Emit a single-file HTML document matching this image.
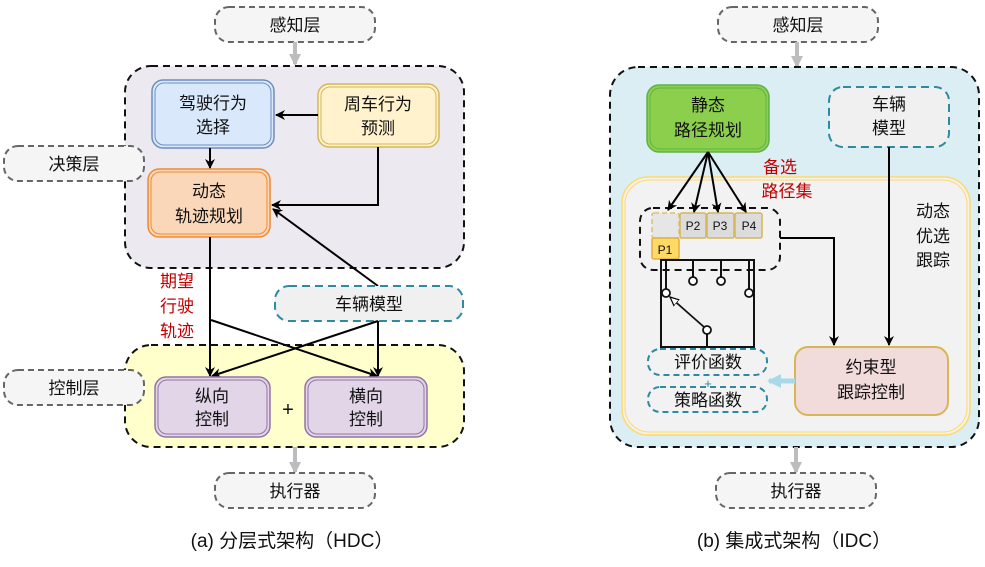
<!DOCTYPE html>
<html><head><meta charset="utf-8"><style>
html,body{margin:0;padding:0;background:#fff;width:985px;height:567px;overflow:hidden}
svg{display:block}
text{font-family:"Liberation Sans","Noto Sans CJK SC",sans-serif;fill:#111}
</style></head><body>
<svg width="985" height="567" viewBox="0 0 985 567" xmlns="http://www.w3.org/2000/svg">
<defs>
<marker id="a" markerWidth="10" markerHeight="10" refX="9" refY="5" orient="auto" markerUnits="userSpaceOnUse"><path d="M0,0 L10,5 L0,10 L3,5 z" fill="#000"/></marker>
<marker id="g" markerWidth="12" markerHeight="12" refX="10" refY="6" orient="auto" markerUnits="userSpaceOnUse"><path d="M0,0 L12,6 L0,12 z" fill="#bdbdbd"/></marker>
<marker id="lb" markerWidth="14" markerHeight="14" refX="12" refY="7" orient="auto" markerUnits="userSpaceOnUse"><path d="M0,0 L14,7 L0,14 z" fill="#a9d9e8"/></marker>
<marker id="o" markerWidth="10" markerHeight="10" refX="9" refY="5" orient="auto" markerUnits="userSpaceOnUse"><path d="M0,1 L9,5 L0,9 z" fill="#fff" stroke="#000" stroke-width="1.2"/></marker>
</defs>

<!-- ===== LEFT (a) ===== -->
<rect x="215" y="7" width="160" height="35" rx="14" fill="#f5f5f5" stroke="#666" stroke-width="2" stroke-dasharray="6,4"/>
<text x="295" y="31" font-size="17" text-anchor="middle">感知层</text>
<line x1="295" y1="42" x2="295" y2="64" stroke="#bdbdbd" stroke-width="4" marker-end="url(#g)"/>

<rect x="125" y="66" width="339" height="202" rx="26" fill="#ece9f0" stroke="#111" stroke-width="2" stroke-dasharray="7,5"/>
<rect x="4" y="146" width="140" height="35" rx="14" fill="#f5f5f5" stroke="#666" stroke-width="2" stroke-dasharray="6,4"/>
<text x="74" y="170" font-size="17" text-anchor="middle">决策层</text>

<rect x="152" y="80" width="122" height="68" rx="11" fill="#dae8fc" stroke="#6c8ebf" stroke-width="1.5"/>
<rect x="155" y="83" width="116" height="62" rx="9" fill="none" stroke="#6c8ebf" stroke-width="1"/>
<text x="213" y="109" font-size="17" text-anchor="middle">驾驶行为</text>
<text x="213" y="133" font-size="17" text-anchor="middle">选择</text>

<rect x="318" y="84" width="121" height="63" rx="11" fill="#fff2cc" stroke="#d6b656" stroke-width="1.5"/>
<rect x="321" y="87" width="115" height="57" rx="9" fill="none" stroke="#d6b656" stroke-width="1"/>
<text x="378" y="110" font-size="17" text-anchor="middle">周车行为</text>
<text x="378" y="134" font-size="17" text-anchor="middle">预测</text>

<rect x="148" y="169" width="122" height="68" rx="11" fill="#fad7b8" stroke="#f08a30" stroke-width="1.5"/>
<rect x="151" y="172" width="116" height="62" rx="9" fill="none" stroke="#f08a30" stroke-width="1"/>
<text x="209" y="197" font-size="17" text-anchor="middle">动态</text>
<text x="209" y="222" font-size="17" text-anchor="middle">轨迹规划</text>

<line x1="318" y1="115" x2="276" y2="115" stroke="#000" stroke-width="2" marker-end="url(#a)"/>
<line x1="210" y1="148" x2="210" y2="168" stroke="#000" stroke-width="2" marker-end="url(#a)"/>
<polyline points="378,147 378,205 272,205" fill="none" stroke="#000" stroke-width="2" marker-end="url(#a)"/>
<line x1="378" y1="286" x2="273" y2="209" stroke="#000" stroke-width="2" marker-end="url(#a)"/>

<rect x="275" y="286" width="188" height="35" rx="14" fill="#f0f0f0" stroke="#2e8aa0" stroke-width="2" stroke-dasharray="8,5"/>
<text x="369" y="310" font-size="17" text-anchor="middle">车辆模型</text>

<text x="177" y="287" font-size="17" fill="#c00000" text-anchor="middle" style="fill:#c00000">期望</text>
<text x="177" y="312" font-size="17" text-anchor="middle" style="fill:#c00000">行驶</text>
<text x="177" y="337" font-size="17" text-anchor="middle" style="fill:#c00000">轨迹</text>

<rect x="125" y="345" width="339" height="102" rx="26" fill="#ffffcc" stroke="#111" stroke-width="2" stroke-dasharray="7,5"/>
<rect x="4" y="370" width="140" height="35" rx="14" fill="#f5f5f5" stroke="#666" stroke-width="2" stroke-dasharray="6,4"/>
<text x="74" y="394" font-size="17" text-anchor="middle">控制层</text>

<line x1="210" y1="237" x2="210" y2="376" stroke="#000" stroke-width="2" marker-end="url(#a)"/>
<line x1="211" y1="320" x2="377" y2="376" stroke="#000" stroke-width="2" marker-end="url(#a)"/>
<line x1="378" y1="321" x2="378" y2="376" stroke="#000" stroke-width="2" marker-end="url(#a)"/>
<line x1="378" y1="321" x2="212" y2="376" stroke="#000" stroke-width="2" marker-end="url(#a)"/>

<rect x="155" y="377" width="115" height="60" rx="11" fill="#e1d5e7" stroke="#9673a6" stroke-width="1.5"/>
<rect x="158" y="380" width="109" height="54" rx="9" fill="none" stroke="#9673a6" stroke-width="1"/>
<text x="212" y="402" font-size="17" text-anchor="middle">纵向</text>
<text x="212" y="425" font-size="17" text-anchor="middle">控制</text>
<rect x="305" y="377" width="122" height="60" rx="11" fill="#e1d5e7" stroke="#9673a6" stroke-width="1.5"/>
<rect x="308" y="380" width="116" height="54" rx="9" fill="none" stroke="#9673a6" stroke-width="1"/>
<text x="366" y="402" font-size="17" text-anchor="middle">横向</text>
<text x="366" y="425" font-size="17" text-anchor="middle">控制</text>
<text x="288" y="416" font-size="20" text-anchor="middle">+</text>

<line x1="295" y1="447" x2="295" y2="472" stroke="#bdbdbd" stroke-width="4" marker-end="url(#g)"/>
<rect x="215" y="473" width="160" height="35" rx="14" fill="#f5f5f5" stroke="#666" stroke-width="2" stroke-dasharray="6,4"/>
<text x="295" y="497" font-size="17" text-anchor="middle">执行器</text>
<text x="292" y="547" font-size="19" text-anchor="middle">(a) 分层式架构（HDC）</text>

<!-- ===== RIGHT (b) ===== -->
<rect x="718" y="7" width="160" height="35" rx="14" fill="#f5f5f5" stroke="#666" stroke-width="2" stroke-dasharray="6,4"/>
<text x="798" y="31" font-size="17" text-anchor="middle">感知层</text>
<line x1="797" y1="42" x2="797" y2="66" stroke="#bdbdbd" stroke-width="4" marker-end="url(#g)"/>

<rect x="610" y="67" width="369" height="380" rx="28" fill="#dbeef4" stroke="#111" stroke-width="2" stroke-dasharray="7,5"/>

<rect x="647" y="85" width="122" height="67" rx="12" fill="#8ccf4d" stroke="#5fb04a" stroke-width="1.5"/>
<rect x="650" y="88" width="116" height="61" rx="10" fill="none" stroke="#5fb04a" stroke-width="1"/>
<text x="708" y="111" font-size="17" text-anchor="middle">静态</text>
<text x="708" y="136" font-size="17" text-anchor="middle">路径规划</text>

<rect x="829" y="87" width="120" height="60" rx="14" fill="#f0f0f0" stroke="#2e8aa0" stroke-width="2" stroke-dasharray="8,5"/>
<text x="889" y="110" font-size="17" text-anchor="middle">车辆</text>
<text x="889" y="134" font-size="17" text-anchor="middle">模型</text>

<rect x="622" y="177" width="348" height="258" rx="26" fill="#f2f2f2" stroke="#ffd966" stroke-width="1.5"/>
<rect x="625" y="180" width="342" height="252" rx="24" fill="none" stroke="#ffd966" stroke-width="1"/>

<text x="780" y="173" font-size="17" text-anchor="middle" style="fill:#c00000">备选</text>
<text x="787" y="197" font-size="17" text-anchor="middle" style="fill:#c00000">路径集</text>

<text x="933" y="217" font-size="17" text-anchor="middle">动态</text>
<text x="933" y="242" font-size="17" text-anchor="middle">优选</text>
<text x="933" y="266" font-size="17" text-anchor="middle">跟踪</text>

<rect x="640" y="208" width="140" height="62" rx="13" fill="none" stroke="#111" stroke-width="2" stroke-dasharray="7,5"/>
<rect x="652" y="213" width="27" height="25" rx="2" fill="#e6e6e6" stroke="#e0c070" stroke-width="1.5" stroke-dasharray="5,3"/>
<rect x="652" y="238" width="27" height="21" rx="2" fill="#ffd966" stroke="#e0b040" stroke-width="1.5"/>
<text x="665" y="254" font-size="12" text-anchor="middle">P1</text>
<rect x="680" y="213" width="26" height="25" rx="2" fill="#dcdcdc" stroke="#d6b656" stroke-width="1.5"/>
<text x="693" y="230" font-size="12" text-anchor="middle">P2</text>
<rect x="707" y="213" width="27" height="25" rx="2" fill="#dcdcdc" stroke="#d6b656" stroke-width="1.5"/>
<text x="720" y="230" font-size="12" text-anchor="middle">P3</text>
<rect x="735" y="213" width="27" height="25" rx="2" fill="#dcdcdc" stroke="#d6b656" stroke-width="1.5"/>
<text x="749" y="230" font-size="12" text-anchor="middle">P4</text>

<line x1="708" y1="152" x2="668" y2="210" stroke="#000" stroke-width="2" marker-end="url(#a)"/>
<line x1="708" y1="152" x2="694" y2="212" stroke="#000" stroke-width="2" marker-end="url(#a)"/>
<line x1="708" y1="152" x2="718" y2="212" stroke="#000" stroke-width="2" marker-end="url(#a)"/>
<line x1="708" y1="152" x2="746" y2="212" stroke="#000" stroke-width="2" marker-end="url(#a)"/>

<!-- switch -->
<rect x="661" y="260" width="93" height="87" fill="none" stroke="#111" stroke-width="2"/>
<line x1="666" y1="260" x2="666" y2="289" stroke="#111" stroke-width="2"/>
<line x1="693" y1="260" x2="693" y2="277" stroke="#111" stroke-width="2"/>
<line x1="721" y1="260" x2="721" y2="277" stroke="#111" stroke-width="2"/>
<line x1="749" y1="260" x2="749" y2="289" stroke="#111" stroke-width="2"/>
<circle cx="693" cy="281" r="4" fill="#fff" stroke="#111" stroke-width="1.8"/>
<circle cx="721" cy="281" r="4" fill="#fff" stroke="#111" stroke-width="1.8"/>
<circle cx="666" cy="293" r="4" fill="#fff" stroke="#111" stroke-width="1.8"/>
<circle cx="749" cy="293" r="4" fill="#fff" stroke="#111" stroke-width="1.8"/>
<line x1="704" y1="327" x2="670" y2="297" stroke="#111" stroke-width="1.8" marker-end="url(#o)"/>
<circle cx="707" cy="330" r="4" fill="#fff" stroke="#111" stroke-width="1.8"/>
<line x1="707" y1="334" x2="707" y2="347" stroke="#111" stroke-width="2"/>

<rect x="648" y="349" width="119" height="26" rx="12" fill="#f2f2f2" stroke="#2e8aa0" stroke-width="2" stroke-dasharray="6,4"/>
<text x="708" y="368" font-size="17" text-anchor="middle">评价函数</text>
<text x="708" y="388" font-size="13" text-anchor="middle" style="fill:#2e8aa0">+</text>
<rect x="648" y="387" width="119" height="25" rx="12" fill="#f2f2f2" stroke="#2e8aa0" stroke-width="2" stroke-dasharray="6,4"/>
<text x="708" y="406" font-size="17" text-anchor="middle">策略函数</text>

<polyline points="780,238 834,238 834,345" fill="none" stroke="#000" stroke-width="2" marker-end="url(#a)"/>
<line x1="889" y1="147" x2="889" y2="345" stroke="#000" stroke-width="2" marker-end="url(#a)"/>

<rect x="795" y="347" width="153" height="68" rx="13" fill="#f2dcdb" stroke="#d6b656" stroke-width="2"/>
<text x="871" y="373" font-size="17" text-anchor="middle">约束型</text>
<text x="871" y="398" font-size="17" text-anchor="middle">跟踪控制</text>
<line x1="795" y1="381" x2="769" y2="381" stroke="#a9d9e8" stroke-width="5" marker-end="url(#lb)"/>

<line x1="796" y1="447" x2="796" y2="472" stroke="#bdbdbd" stroke-width="4" marker-end="url(#g)"/>
<rect x="716" y="473" width="160" height="35" rx="14" fill="#f5f5f5" stroke="#666" stroke-width="2" stroke-dasharray="6,4"/>
<text x="796" y="497" font-size="17" text-anchor="middle">执行器</text>
<text x="794" y="547" font-size="19" text-anchor="middle">(b) 集成式架构（IDC）</text>
</svg>
</body></html>
